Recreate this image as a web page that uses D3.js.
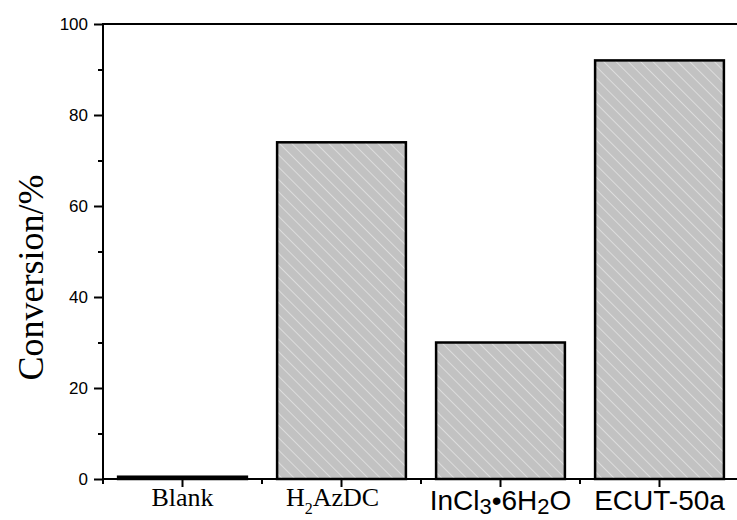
<!DOCTYPE html>
<html>
<head>
<meta charset="utf-8">
<script src="https://cdn.jsdelivr.net/npm/d3@7"></script>
<style>
  body { margin: 0; background: #fff; }
  svg { display: block; }
</style>
</head>
<body>
<div id="chart"></div>
<script>
// data
const categories = ["Blank", "H2AzDC", "InCl3•6H2O", "ECUT-50a"];
const conversion = [0.5, 74, 30, 92];
const yMajorTicks = [0, 20, 40, 60, 80, 100];
const yMinorTicks = [10, 30, 50, 70, 90];
// label pieces, sub = subscript
const labelParts = [
    [{ t: "Blank" }],
    [{ t: "H" }, { t: "2", sub: true }, { t: "AzDC" }],
    [{ t: "InCl" }, { t: "3", sub: true }, { t: "•6H" }, { t: "2", sub: true }, { t: "O" }],
    [{ t: "ECUT-50a" }]
];

const W = 737, H = 520;
const margin = { top: 24, left: 103, bottom: 41 };
const plotRight = 739; // frame runs just past the visible edge

const svg = d3.select("#chart")
    .append("svg")
    .attr("width", W)
    .attr("height", H);

// hatch fill for the bars
const defs = svg.append("defs");
const pat = defs.append("pattern")
    .attr("id", "hatch")
    .attr("patternUnits", "userSpaceOnUse")
    .attr("width", 8.7)
    .attr("height", 8.7)
    .attr("patternTransform", "rotate(-45)");
pat.append("rect")
    .attr("width", 8.7).attr("height", 8.7)
    .attr("fill", "#c2c2c2");
pat.append("line")
    .attr("x1", 0).attr("y1", 0).attr("x2", 0).attr("y2", 8.7)
    .attr("stroke", "#e8e8e8")
    .attr("stroke-width", 1.4);

const x = d3.scaleBand()
    .domain(categories)
    .range([margin.left, plotRight])
    .paddingInner(0.19)
    .paddingOuter(0.095);

const y = d3.scaleLinear()
    .domain([0, 100])
    .range([H - margin.bottom, margin.top]);

// bars
svg.selectAll(".bar")
    .data(categories)
    .enter().append("rect")
    .attr("class", "bar")
    .attr("x", d => x(d))
    .attr("width", x.bandwidth())
    .attr("y", (d, i) => y(conversion[i]))
    .attr("height", (d, i) => y(0) - y(conversion[i]))
    .attr("fill", "url(#hatch)")
    .attr("stroke", "#000")
    .attr("stroke-width", 2.5);

// y axis, major + minor ticks
const yAxis = svg.append("g")
    .attr("transform", `translate(${margin.left},0)`)
    .call(d3.axisLeft(y).tickValues(yMajorTicks).tickSize(9).tickPadding(6));
yAxis.select(".domain").remove();
yAxis.selectAll("line").attr("stroke-width", 2);
yAxis.selectAll("text")
    .attr("font-family", "'Liberation Sans', Arial, sans-serif")
    .attr("font-size", 17)
    .attr("fill", "#000");

const yMinor = svg.append("g")
    .attr("transform", `translate(${margin.left},0)`)
    .call(d3.axisLeft(y).tickValues(yMinorTicks).tickSize(5).tickFormat(""));
yMinor.select(".domain").remove();
yMinor.selectAll("line").attr("stroke-width", 2);

// x axis ticks at category centres, minor at band edges
const xAxis = svg.append("g")
    .attr("transform", `translate(0,${y(0)})`)
    .call(d3.axisBottom(x).tickSize(8).tickFormat(""));
xAxis.select(".domain").remove();
xAxis.selectAll("line").attr("stroke-width", 2);

const edge = d => x(d) - x.paddingInner() * x.step() / 2;
svg.selectAll(".xminor")
    .data(categories)
    .enter().append("line")
    .attr("x1", edge).attr("x2", edge)
    .attr("y1", y(0)).attr("y2", y(0) + 5)
    .attr("stroke", "#000")
    .attr("stroke-width", 2);

// frame lines
svg.append("line")
    .attr("x1", margin.left - 1).attr("x2", plotRight)
    .attr("y1", y(0)).attr("y2", y(0))
    .attr("stroke", "#000").attr("stroke-width", 2);
svg.append("line")
    .attr("x1", margin.left).attr("x2", plotRight)
    .attr("y1", y(100)).attr("y2", y(100))
    .attr("stroke", "#000").attr("stroke-width", 2);
svg.append("line")
    .attr("x1", margin.left).attr("x2", margin.left)
    .attr("y1", y(0) + 1).attr("y2", y(100) - 1)
    .attr("stroke", "#000").attr("stroke-width", 2);

// category labels (first two in serif, last two in sans, as in the figure)
const serif = "'Liberation Serif', 'Times New Roman', serif";
const sans = "'Liberation Sans', Arial, sans-serif";
categories.forEach((c, i) => {
    const isSerif = i < 2;
    const size = isSerif ? 26 : 28;
    const subSize = isSerif ? 16 : 22;
    const subShift = isSerif ? 8 : 4;
    const t = svg.append("text")
        .attr("x", x(c) + x.bandwidth() / 2 + (i === 1 ? -9 : 0))
        .attr("y", isSerif ? 506 : 510)
        .attr("text-anchor", "middle")
        .attr("font-family", isSerif ? serif : sans)
        .attr("font-size", size)
        .attr("fill", "#000");
    let shifted = false;
    labelParts[i].forEach(p => {
        const ts = t.append("tspan").text(p.t);
        if (p.sub) {
            ts.attr("font-size", subSize).attr("dy", subShift);
            shifted = true;
        } else if (shifted) {
            ts.attr("dy", -subShift);
            shifted = false;
        }
    });
});

// y title
svg.append("text")
    .attr("transform", `translate(43,${(y(0) + y(100)) / 2 + 26}) rotate(-90)`)
    .attr("text-anchor", "middle")
    .attr("font-family", serif)
    .attr("font-size", 36)
    .attr("fill", "#000")
    .text("Conversion/%");
</script>
</body>
</html>
